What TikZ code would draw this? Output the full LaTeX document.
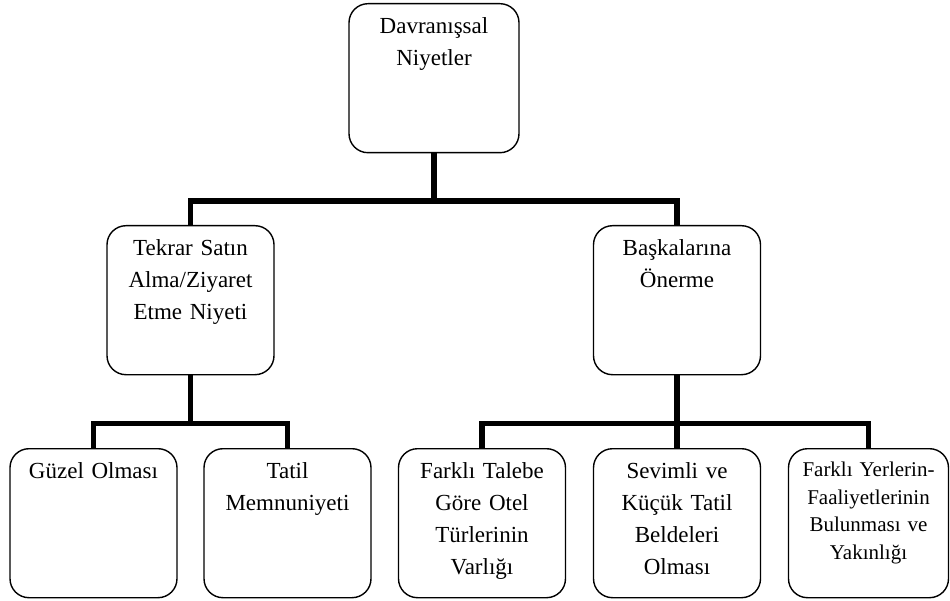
\documentclass[tikz,border=0pt]{standalone}
\usepackage{fontspec}
\setmainfont{Liberation Serif}
\begin{document}
\begin{tikzpicture}[x=1pt,y=-1pt,
  box/.style={draw, line width=1.4pt, rounded corners=19pt, inner sep=0pt,
    anchor=north, align=center, minimum height=149pt,
    font=\fontsize{23}{32}\selectfont, text height=30pt, text depth=119pt},
  w167/.style={minimum width=167pt, text width=155pt},
  smalltext/.style={font=\fontsize{21}{27.5}\selectfont, text height=28pt, text depth=121pt},
  conn/.style={line width=5.8pt, line join=miter}]
\useasboundingbox (0,0) rectangle (950,601);

% level 1
\node[box, minimum width=170pt, text width=158pt] (top) at (434,3) {Davranışsal\\Niyetler};

% level 2
\node[box, w167] (tekrar) at (190.5,225) {Tekrar Satın\\Alma/Ziyaret\\Etme Niyeti};
\node[box, w167] (oneri) at (677,225) {Başkalarına\\Önerme};

% level 3
\node[box, w167] (guzel) at (93.5,448) {Güzel Olması};
\node[box, w167] (tatil) at (287.5,448) {Tatil\\Memnuniyeti};
\node[box, w167] (otel) at (482,448) {Farklı Talebe\\Göre Otel\\Türlerinin\\Varlığı};
\node[box, w167] (belde) at (677,448) {Sevimli ve\\Küçük Tatil\\Beldeleri\\Olması};
\node[box, smalltext, minimum width=160pt, text width=152pt] (yer) at (868.5,448) {Farklı Yerlerin-\\Faaliyetlerinin\\Bulunması ve\\Yakınlığı};

% connectors
\coordinate (bar1) at (434,200.7);
\coordinate (bar2) at (0,423.5);
\draw[conn] (top.south) -- (bar1) -| (tekrar.north);
\draw[conn] (bar1) -| (oneri.north);

\draw[conn] (tekrar.south) -- (tekrar.south |- bar2) -| (guzel.north);
\draw[conn] (tekrar.south |- bar2) -| (tatil.north);

\draw[conn] (oneri.south) -- (oneri.south |- bar2) -| (otel.north);
\draw[conn] (oneri.south |- bar2) -| (yer.north);
\draw[conn] (oneri.south) -- (belde.north);
\end{tikzpicture}
\end{document}
